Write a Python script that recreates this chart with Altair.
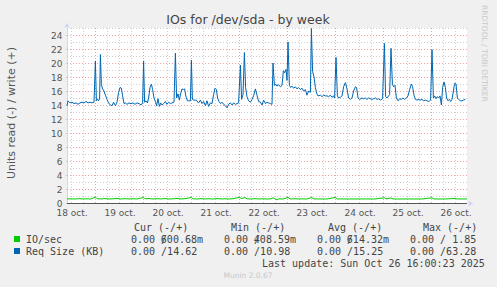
import altair as alt
import pandas as pd
from datetime import datetime, timezone, timedelta

# ---------------- data ----------------
START = datetime(2025, 10, 18, 9, 45, tzinfo=timezone.utc)
SPAN_H = 200

write_hours = [0, 0.5, 1.5, 2.5, 3.5, 4.5, 5.5, 6.5, 7.5, 8.5, 9.5, 10.5, 11.5, 12.5, 13.5,
    14.2, 14.7, 15.3, 15.8, 16.3, 16.7, 17.2, 17.8, 18.5, 19.2, 20, 20.8, 21.7, 22.5, 23.3,
    24.2, 25, 25.8, 26.5, 27.2, 27.8, 28.5, 29.2, 30, 31, 32, 33, 34, 35, 36, 37, 37.8,
    38.3, 38.8, 39.5, 40.2, 40.8, 41.5, 42.2, 42.8, 43.5, 44.2, 44.8, 45.5, 46.2, 46.8,
    47.5, 48.3, 49.2, 50, 50.8, 51.7, 52.5, 53.5, 54.2, 54.8, 55.5, 56.2, 56.8, 57.5,
    58.2, 58.8, 59.5, 60.2, 60.8, 61.7, 62.2, 62.7, 63.3, 64.2, 65, 65.8, 66.7, 67.5,
    68.3, 69.2, 70, 70.8, 71.7, 72.5, 73.3, 74, 74.7, 75.3, 76, 76.8, 77.5, 78.3, 79.2,
    80, 80.8, 81.7, 82.5, 83.3, 84.2, 85, 85.8, 86.7, 87.3, 88, 88.7, 89.3, 90, 90.8,
    91.7, 92.5, 93.3, 94.2, 95, 95.8, 96.7, 97.5, 98.3, 99.2, 100, 100.8, 101.7, 102.5,
    103, 103.7, 104.3, 105, 105.8, 106.7, 107.5, 108.2, 108.8, 109.5, 110, 110.5, 111.2,
    111.8, 112.5, 113.3, 114.2, 115, 115.8, 116.7, 117.5, 118.3, 119.2, 120, 120.8, 121.7,
    122.2, 122.8, 123.5, 124.2, 124.8, 125.5, 126.7, 127.5, 128.3, 129.2, 130, 130.8,
    131.7, 132.5, 133.3, 133.8, 134.5, 135.2, 135.8, 136.7, 137.5, 138.3, 139.2, 140,
    140.8, 141.7, 142.5, 143.3, 144.2, 144.8, 145.5, 146.3, 147.5, 148.3, 149.2, 150,
    150.8, 151.7, 152.5, 153.3, 154.2, 155, 155.8, 156.7, 157.8, 158.7, 159.3, 160, 160.8,
    161.3, 162, 162.7, 163.3, 164, 164.7, 165.5, 166.3, 167.2, 168, 168.8, 169.7, 170.5,
    171.3, 172.2, 172.8, 173.5, 174.2, 175, 175.8, 176.7, 177.5, 178.3, 179.2, 180, 180.8,
    181.8, 182.5, 183.2, 183.8, 184.5, 185.2, 185.8, 186.5, 187.2, 187.8, 188.5, 189.2,
    189.8, 190.5, 191.2, 191.8, 192.5, 193.2, 193.8, 194.5, 195.2, 195.8, 196.7, 197.5,
    198.3, 199.2]
write_kb = [13.9, 14.6, 14.3, 14.4, 14.2, 14.3, 14.1, 14.3, 14.4, 14.3, 14.5, 14.3, 14.4, 14.3, 14.4,
    20.3, 14.6, 14.8, 14.6, 15.0, 21.2, 16.9, 16.3, 16.0, 15.4, 14.8, 14.3, 14.0, 13.9, 14.4,
    13.9, 14.4, 15.8, 16.5, 16.4, 15.3, 14.2, 14.3, 14.1, 14.3, 14.2, 14.3, 14.1, 14.3, 14.2, 14.0, 14.3,
    20.3, 14.4, 14.6, 14.3, 15.0, 16.5, 17.0, 16.2, 15.0, 14.5, 13.9, 14.9, 13.8, 14.3,
    14.0, 14.2, 14.5, 14.1, 14.4, 14.2, 14.3, 14.4, 21.4, 15.0, 15.6, 14.7, 15.6, 16.3,
    16.2, 16.3, 15.2, 14.6, 14.6, 14.6, 20.4, 14.8, 14.7, 14.7, 14.6, 14.3, 14.7, 14.2,
    14.5, 13.9, 14.6, 13.8, 14.3, 14.2, 15.5, 16.4, 16.2, 15.0, 14.5, 14.2, 14.4, 14.1, 13.9,
    13.6, 14.1, 14.3, 14.0, 14.3, 14.1, 14.2, 14.3, 19.7, 14.8, 15.5, 21.5, 16.5, 15.2, 14.6,
    14.4, 14.8, 15.3, 16.3, 15.4, 14.5, 14.4, 14.0, 14.7, 14.2, 14.4, 14.3, 14.2, 14.1,
    20.0, 16.8, 17.0, 16.7, 16.9, 16.6, 16.8, 18.9, 18.6, 19.1, 17.5, 23.0, 16.8,
    16.5, 16.7, 16.4, 16.6, 16.3, 16.5, 16.2, 16.4, 16.0, 16.2, 15.4, 16.0, 15.8,
    24.9, 18.8, 18.0, 16.5, 15.7, 15.3, 15.4, 15.2, 15.4, 15.3, 15.3, 15.2,
    15.4, 15.1, 15.3, 15.0, 20.8, 15.3, 15.0, 15.1, 15.3, 16.6, 17.2, 16.3,
    15.0, 14.8, 15.0, 16.0, 16.6, 16.5, 15.0, 14.8, 15.0, 14.9, 15.0, 14.8,
    15.0, 14.9, 14.8, 14.9, 15.0, 14.8, 14.9, 14.7, 14.9, 22.8, 15.2, 15.0, 15.3,
    15.5, 22.1, 17.0, 16.6, 16.8, 15.0, 14.6, 14.9, 14.8, 15.0, 14.8, 15.0, 15.3,
    16.2, 17.0, 16.6, 15.4, 14.8, 14.7, 14.8, 14.7, 14.8, 14.6, 14.7, 14.6, 14.5,
    14.7, 21.9, 15.0, 15.3, 14.9, 15.2, 15.0, 15.3, 14.0, 16.5, 17.3, 16.5,
    15.0, 14.6, 14.8, 14.5, 14.8, 16.0, 17.1, 17.0, 15.0, 14.8, 14.6, 14.6,
    14.7, 14.8]

io_hours = [0, 2, 4, 6, 8, 10, 12, 14.2, 15, 17, 19, 21, 23, 25, 27, 29, 31, 33, 35, 38.3, 39,
    41, 43, 45, 47, 49, 51, 53, 55, 57, 59, 62.2, 63, 65, 67, 69, 71, 73, 75, 77, 79, 81, 83,
    86.5, 87, 89, 90, 92, 94, 96, 98, 100, 102, 103, 104, 105, 106, 108, 110.5, 111.5, 114,
    116, 118, 120, 122.2, 123.5, 126, 130, 134.3, 135, 138, 142, 146, 150, 154, 158.7, 159.5,
    162, 163, 166, 170, 174, 178, 182.5, 183.5, 186, 190, 194, 195, 198, 200]
io_per_sec = [0.58, 0.60, 0.57, 0.62, 0.58, 0.60, 0.57, 0.85, 0.62, 0.58, 0.63, 0.57, 0.60, 0.65,
    0.57, 0.62, 0.58, 0.61, 0.57, 0.80, 0.60, 0.64, 0.57, 0.62, 0.58, 0.63, 0.57, 0.60, 0.65,
    0.58, 0.62, 0.78, 0.60, 0.57, 0.62, 0.58, 0.61, 0.57, 0.63, 0.58, 0.60, 0.57, 0.61, 0.82,
    0.62, 0.78, 0.60, 0.57, 0.62, 0.58, 0.60, 0.57, 0.60, 0.75, 0.58, 0.45, 0.60, 0.57, 0.80,
    0.58, 0.60, 0.58, 0.59, 0.57, 0.78, 0.58, 0.58, 0.57, 0.80, 0.58, 0.58, 0.57, 0.58, 0.58,
    0.57, 0.75, 0.58, 0.72, 0.58, 0.57, 0.58, 0.57, 0.58, 0.75, 0.58, 0.57, 0.58, 0.66, 0.58,
    0.57, 0.58]

days = [18, 19, 20, 21, 22, 23, 24, 25, 26]
y_labels = list(range(0, 25, 2))

title_text = "IOs for /dev/sda - by week"
y_title = "Units read (-) / write (+)"
series_names = ["IO/sec", "Req Size (KB)"]
series_colors = ["#00CC00", "#0066B3"]
col_headers = ["Cur (-/+)", "Min (-/+)", "Avg (-/+)", "Max (-/+)"]
row1_vals = ["600.68m", "408.59m", "614.32m", "1.85"]
row2_vals = ["14.62", "10.98", "15.25", "63.28"]
last_update = "Last update: Sun Oct 26 16:00:23 2025"
munin_ver = "Munin 2.0.67"
rrd_credit = "RRDTOOL / TOBI OETIKER"

# ---------------- helpers ----------------
def ms(dt):
    return int(dt.timestamp() * 1000)

def hms(h):
    return ms(START + timedelta(hours=h))

END = START + timedelta(hours=SPAN_H)
xs = alt.Scale(type="utc", domain=[ms(START), ms(END)])
ys = alt.Scale(domain=[0, 25], nice=False, zero=False)

noon = [ms(datetime(2025, 10, d, 12, tzinfo=timezone.utc)) for d in days]

XAX = alt.Axis(values=noon, labelExpr="utcFormat(datum.value, '%d') + ' oct.'",
               labelFont="DejaVu Sans", labelFontSize=9, labelColor="#555",
               domain=False, ticks=False, grid=False, labelPadding=5, title=None,
               labelOverlap=False, labelBound=False, labelFlush=False)
YAX = alt.Axis(values=y_labels, labelFont="DejaVu Sans", labelFontSize=9, labelColor="#555",
               domainColor="#CFD6F8", tickColor="#CFD6F8", tickSize=2, labelPadding=3,
               grid=False, title=None)

def X(field):
    return alt.X(field, scale=xs, axis=XAX)

def Y(field):
    return alt.Y(field, scale=ys, axis=YAX)

L, T = 67, 28  # plot origin in page pixels

write_df = pd.DataFrame({"t": [hms(h) for h in write_hours], "v": write_kb})
io_df = pd.DataFrame({"t": [hms(h) for h in io_hours], "v": io_per_sec})

vmin, vmaj = [], []
for d in days:
    for hr in (0, 6, 12, 18):
        dt = datetime(2025, 10, d, hr, tzinfo=timezone.utc)
        if START < dt < END:
            (vmaj if hr == 0 else vmin).append(ms(dt))
hmin = list(range(1, 26, 2))
hmaj = list(range(2, 25, 2))

one = pd.DataFrame({"a": [0]})

def txt(s, x, y, size=10, color="#444", font="DejaVu Sans Mono", align="left",
        angle=0, baseline="alphabetic"):
    return alt.Chart(one).mark_text(text=s, font=font, fontSize=size, color=color,
                                    align=align, baseline=baseline, angle=angle).encode(
        x=alt.value(x - L), y=alt.value(y - T))

GRID_MINOR = "#CFCFCF"
GRID_MAJOR = "#F0A0A0"

grid_minor_v = alt.Chart(pd.DataFrame({"t": vmin})).mark_rule(
    stroke=GRID_MINOR, strokeDash=[1, 2], strokeWidth=1).encode(x=X("t:T"))
grid_major_v = alt.Chart(pd.DataFrame({"t": vmaj})).mark_rule(
    stroke=GRID_MAJOR, strokeDash=[1, 2], strokeWidth=1).encode(x=X("t:T"))
grid_minor_h = alt.Chart(pd.DataFrame({"y": hmin})).mark_rule(
    stroke=GRID_MINOR, strokeDash=[1, 2], strokeWidth=1, yOffset=0.5).encode(y=Y("y:Q"))
grid_major_h = alt.Chart(pd.DataFrame({"y": hmaj})).mark_rule(
    stroke=GRID_MAJOR, strokeDash=[1, 2], strokeWidth=1, yOffset=0.5).encode(y=Y("y:Q"))

io_line = alt.Chart(io_df).mark_line(color=series_colors[0], strokeWidth=1).encode(
    x=X("t:T"), y=Y("v:Q"))
write_line = alt.Chart(write_df).mark_line(color=series_colors[1], strokeWidth=1).encode(
    x=X("t:T"), y=Y("v:Q"))

zero_rule = alt.Chart(one).mark_rule(color="#555", strokeWidth=1, yOffset=0.5).encode(
    y=Y("a:Q"))

arrow_up = alt.Chart(one).mark_point(shape="triangle-up", filled=True, size=30,
                                     color="#CFD6F8", opacity=1).encode(
    x=alt.value(0), y=alt.value(-3))
arrow_right = alt.Chart(one).mark_point(shape="triangle-right", filled=True, size=30,
                                        color="#CFD6F8", opacity=1).encode(
    x=alt.value(404), y=alt.value(175.5))

texts = [
    txt(title_text, 248, 24, size=12.5, color="#444", font="DejaVu Sans", align="center"),
    txt(y_title, 15, 113, size=11, color="#555", font="DejaVu Sans", align="center", angle=270),
    txt(rrd_credit, 484, 5, size=7.5, color="#C8C8C8", font="DejaVu Sans", align="left",
        angle=90, baseline="middle"),
    txt(col_headers[0], 134, 231), txt(col_headers[1], 231, 231),
    txt(col_headers[2], 328, 231), txt(col_headers[3], 423, 231),
    txt(series_names[0], 26, 243), txt(series_names[1], 26, 255),
    txt(last_update, 262, 267),
    txt(munin_ver, 248, 278, size=7.5, color="#C8C8C8", font="DejaVu Sans", align="center"),
]
col_x = [131, 224, 317, 410]
for i in range(4):
    if i < 3:
        texts.append(txt("0.00 /", col_x[i], 243))
        texts.append(txt(row1_vals[i], col_x[i] + 72, 243, align="right"))
    else:
        texts.append(txt("0.00 / " + row1_vals[i], col_x[i], 243))
    texts.append(txt("0.00 /" + row2_vals[i], col_x[i], 255))

squares = [
    alt.Chart(one).mark_rect(color=series_colors[k]).encode(
        x=alt.value(14 - L), x2=alt.value(20 - L),
        y=alt.value(236 + 12 * k - T), y2=alt.value(242 + 12 * k - T))
    for k in range(2)
]

chart = alt.layer(
    grid_minor_v, grid_minor_h, grid_major_v, grid_major_h,
    io_line, write_line, zero_rule, arrow_up, arrow_right, *squares, *texts
).properties(
    width=400, height=175,
    padding={"left": L, "top": T, "right": 30, "bottom": 84},
    autosize=alt.AutoSizeParams(type="none"),
    background="#F0F0F0",
).configure_view(stroke=None, fill="#FFFFFF")

chart.save("out.html", embed_options={"renderer": "svg", "actions": False})
